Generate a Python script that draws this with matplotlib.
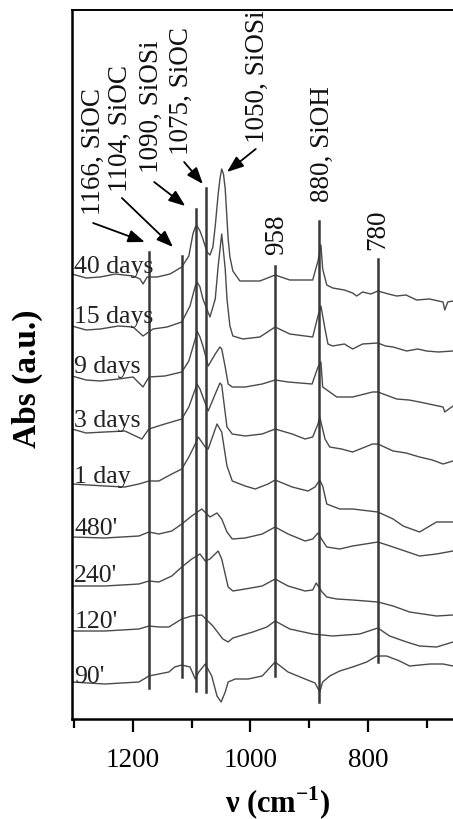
import matplotlib
matplotlib.use('Agg')
import matplotlib.pyplot as plt
from matplotlib.ticker import FixedLocator

plt.rcParams['font.family'] = ['Liberation Serif', 'DejaVu Serif']
plt.rcParams['mathtext.fontset'] = 'custom'
plt.rcParams['mathtext.rm'] = 'Liberation Serif'
plt.rcParams['mathtext.bf'] = 'Liberation Serif:bold'

# spectra, wavenumber (cm-1) and stacked absorbance (a.u.)
wn_40d = [1304, 1280, 1256, 1230, 1200, 1188, 1183, 1176, 1159, 1137, 1117, 1105, 1098, 1094, 1091, 1086, 1081,
          1074, 1069, 1064, 1060, 1055, 1052, 1049, 1046, 1043, 1038, 1035, 1030, 1018, 984, 958, 933, 894, 885,
          880, 877, 870, 860, 840, 826, 819, 809, 795, 783, 765, 751, 735, 717, 695, 672, 669, 664, 655]
ab_40d = [4.45, 4.41, 4.42, 4.45, 4.43, 4.40, 4.35, 4.42, 4.42, 4.45, 4.52, 4.63, 4.85, 4.92, 4.93, 4.88, 4.80,
          4.67, 4.64, 4.72, 4.93, 5.25, 5.40, 5.50, 5.45, 5.30, 4.80, 4.62, 4.48, 4.38, 4.38, 4.44, 4.39, 4.39,
          4.58, 4.74, 4.50, 4.34, 4.31, 4.29, 4.26, 4.23, 4.27, 4.25, 4.28, 4.25, 4.23, 4.24, 4.19, 4.20, 4.17,
          4.09, 4.17, 4.18]

wn_15d = [1304, 1280, 1256, 1225, 1200, 1183, 1166, 1142, 1117, 1103, 1094, 1091, 1086, 1081, 1069, 1060, 1055,
          1049, 1043, 1040, 1035, 1030, 1013, 984, 958, 933, 894, 885, 880, 873, 868, 860, 840, 826, 809, 783,
          770, 757, 734, 715, 700, 680, 655]
ab_15d = [3.93, 3.89, 3.90, 3.93, 3.92, 3.83, 3.90, 3.92, 3.97, 4.13, 4.33, 4.37, 4.32, 4.20, 4.02, 4.20, 4.53,
          4.85, 4.50, 4.20, 3.93, 3.83, 3.80, 3.82, 3.92, 3.85, 3.82, 4.03, 4.13, 3.90, 3.75, 3.73, 3.75, 3.70,
          3.75, 3.76, 3.73, 3.72, 3.68, 3.70, 3.68, 3.67, 3.68]

wn_9d = [1304, 1280, 1256, 1225, 1200, 1183, 1173, 1146, 1117, 1105, 1094, 1091, 1086, 1081, 1072, 1060, 1052,
         1049, 1043, 1038, 1031, 1009, 980, 958, 936, 895, 885, 880, 877, 865, 853, 826, 792, 783, 751, 730,
         712, 672, 669, 655]
ab_9d = [3.43, 3.39, 3.38, 3.40, 3.42, 3.32, 3.42, 3.43, 3.47, 3.58, 3.80, 3.88, 3.82, 3.73, 3.53, 3.65, 3.72,
         3.70, 3.52, 3.35, 3.32, 3.32, 3.35, 3.39, 3.37, 3.35, 3.52, 3.57, 3.32, 3.27, 3.22, 3.22, 3.27, 3.27,
         3.20, 3.19, 3.17, 3.12, 3.07, 3.13]

wn_3d = [1304, 1280, 1248, 1214, 1185, 1173, 1146, 1117, 1105, 1094, 1091, 1086, 1081, 1072, 1060, 1052, 1049,
         1040, 1031, 1009, 980, 958, 929, 907, 894, 885, 882, 873, 865, 845, 826, 792, 783, 757, 735, 712, 690,
         672, 655]
ab_3d = [2.90, 2.86, 2.87, 2.88, 2.80, 2.90, 2.95, 3.00, 3.12, 3.30, 3.35, 3.30, 3.22, 3.08, 3.25, 3.36, 3.34,
         2.92, 2.85, 2.83, 2.85, 2.90, 2.85, 2.80, 2.82, 2.95, 3.02, 2.80, 2.72, 2.70, 2.67, 2.75, 2.75, 2.68,
         2.66, 2.62, 2.59, 2.55, 2.58]

wn_1d = [1304, 1248, 1214, 1190, 1173, 1156, 1134, 1117, 1105, 1094, 1089, 1077, 1072, 1057, 1049, 1040, 1031,
         1009, 992, 970, 958, 929, 902, 890, 882, 877, 870, 848, 826, 783, 757, 740, 712, 683, 655]
ab_1d = [2.35, 2.33, 2.32, 2.35, 2.38, 2.38, 2.45, 2.50, 2.62, 2.75, 2.82, 2.72, 2.70, 2.95, 2.87, 2.53, 2.38,
         2.33, 2.30, 2.35, 2.39, 2.32, 2.28, 2.32, 2.39, 2.33, 2.15, 2.10, 2.10, 2.07, 2.00, 1.93, 1.87, 1.97, 1.97]

wn_480 = [1304, 1248, 1219, 1190, 1173, 1156, 1134, 1117, 1100, 1083, 1069, 1057, 1049, 1040, 1031, 1009, 980,
          958, 936, 907, 894, 885, 878, 870, 848, 826, 783, 757, 712, 683, 655]
ab_480 = [1.82, 1.81, 1.82, 1.83, 1.87, 1.85, 1.88, 1.95, 2.03, 2.10, 2.02, 2.06, 2.00, 1.87, 1.80, 1.81, 1.85,
          1.92, 1.85, 1.78, 1.80, 1.86, 1.79, 1.72, 1.70, 1.73, 1.77, 1.72, 1.63, 1.65, 1.68]

wn_240 = [1304, 1248, 1190, 1173, 1156, 1134, 1117, 1100, 1086, 1077, 1069, 1055, 1049, 1038, 1030, 1009, 980,
          958, 936, 907, 894, 888, 878, 870, 853, 826, 783, 757, 729, 683, 655]
ab_240 = [1.33, 1.33, 1.35, 1.38, 1.37, 1.43, 1.52, 1.60, 1.65, 1.58, 1.60, 1.68, 1.60, 1.32, 1.28, 1.30, 1.33,
          1.40, 1.33, 1.28, 1.29, 1.36, 1.27, 1.22, 1.20, 1.19, 1.17, 1.13, 1.07, 1.03, 1.04]

wn_120 = [1304, 1248, 1190, 1173, 1156, 1139, 1117, 1100, 1083, 1064, 1047, 1038, 1030, 996, 972, 958, 933, 894,
          860, 814, 783, 763, 734, 712, 683, 666, 655]
ab_120 = [0.88, 0.88, 0.90, 0.93, 0.92, 0.92, 1.00, 1.03, 1.04, 0.93, 0.80, 0.77, 0.81, 0.87, 0.92, 0.98, 0.90,
          0.85, 0.83, 0.85, 0.91, 0.83, 0.77, 0.73, 0.72, 0.75, 0.77]

wn_90 = [1304, 1248, 1190, 1173, 1156, 1139, 1129, 1117, 1103, 1094, 1088, 1077, 1066, 1057, 1050, 1043, 1038,
         1026, 1004, 980, 958, 936, 907, 890, 882, 877, 865, 848, 826, 802, 785, 768, 746, 729, 694, 672, 655]
ab_90 = [0.37, 0.35, 0.37, 0.43, 0.45, 0.47, 0.52, 0.54, 0.52, 0.40, 0.47, 0.55, 0.43, 0.23, 0.17, 0.27, 0.37,
         0.40, 0.40, 0.43, 0.57, 0.47, 0.40, 0.36, 0.27, 0.37, 0.43, 0.48, 0.52, 0.57, 0.63, 0.63, 0.58, 0.53,
         0.55, 0.55, 0.53]

spectra = [(wn_40d, ab_40d), (wn_15d, ab_15d), (wn_9d, ab_9d), (wn_3d, ab_3d), (wn_1d, ab_1d),
           (wn_480, ab_480), (wn_240, ab_240), (wn_120, ab_120), (wn_90, ab_90)]
labels = ['40 days', '15 days', '9 days', '3 days', '1 day', "480'", "240'", "120'", "90'"]
label_y = [4.47, 3.97, 3.47, 2.93, 2.37, 1.85, 1.38, 0.92, 0.37]

# marker lines: position, bottom, top
line_pos = [1172, 1117, 1092, 1075, 958, 884, 782]
line_lo = [0.31, 0.42, 0.28, 0.27, 0.43, 0.17, 0.57]
line_hi = [4.67, 4.63, 5.10, 5.31, 4.53, 4.98, 4.60]

# band labels: text, x, y of text start, arrow tail, arrow head
band_text = ['1166, SiOC', '1104, SiOC', '1090, SiOSi', '1075, SiOC', '1050, SiOSi', '880, SiOH', '958', '780']
band_x = [1268, 1222, 1168, 1117, 989, 878, 955, 783]
band_y = [5.05, 5.28, 5.47, 5.65, 5.77, 5.18, 4.65, 4.70]
arrow_from = [(1268, 4.96), (1219, 5.21), (1164, 5.37), (1113, 5.57), (991, 5.70)]
arrow_to = [(1180, 4.77), (1132, 4.72), (1111, 5.13), (1081, 5.35), (1040, 5.47)]

fig = plt.figure(figsize=(4.53, 8.2), dpi=100)
ax = fig.add_axes([72/453, 100/820, 1 - 72/453, 709/820])

for wn, ab in spectra:
    ax.plot(wn, ab, color='#4a4a4a', lw=1.0)

for p, lo, hi in zip(line_pos, line_lo, line_hi):
    ax.plot([p, p], [lo, hi], color='#383838', lw=1.8)

for t, y in zip(labels, label_y):
    ax.text(1300, y, t, fontsize=18.5, color='#222222', ha='left', va='baseline')

for t, x, y in zip(band_text, band_x, band_y):
    ax.text(x, y, t, fontsize=19.5, rotation=90, ha='center', va='bottom', color='#111111')

for a, b in zip(arrow_from, arrow_to):
    ax.annotate('', xy=b, xytext=a,
                arrowprops=dict(arrowstyle='-|>,head_length=1.0,head_width=0.38', color='black',
                                lw=1.3, shrinkA=0, shrinkB=0))

ax.set_xlim(1304, 655)
ax.set_ylim(0, 7.09)
ax.set_yticks([])
ax.xaxis.set_major_locator(FixedLocator([1200, 1000, 800]))
ax.xaxis.set_minor_locator(FixedLocator([1300, 1100, 900, 700]))
ax.tick_params(axis='x', which='major', length=9.5, width=1.6, labelsize=19.5, pad=11, direction='out')
ax.tick_params(axis='x', which='minor', length=6.5, width=1.6, direction='out')
ax.spines['right'].set_visible(False)
ax.spines['left'].set_linewidth(1.8)
ax.spines['bottom'].set_linewidth(1.8)
ax.spines['top'].set_linewidth(1.4)

fig.text(27/453, 1 - 379/820, 'Abs (a.u.)', rotation=90, ha='center', va='center',
         fontsize=24, fontweight='bold')
fig.text(278/453, 1 - 803/820, r'ν (cm$^{\mathbf{-1}}$)', ha='center', va='center',
         fontsize=22, fontweight='bold')

fig.savefig('out.png', dpi=100)
